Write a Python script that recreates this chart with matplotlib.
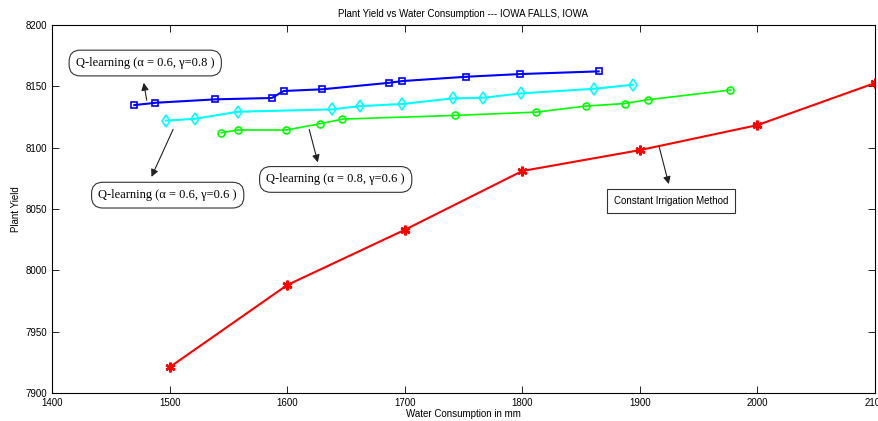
import matplotlib.pyplot as plt

# Data
q68_x = [1470, 1488, 1539, 1587, 1597, 1630, 1687, 1698, 1752, 1798, 1865]
q68_y = [8134.7, 8136.6, 8139.4, 8140.5, 8146.2, 8147.6, 8152.9, 8154.3, 8157.8, 8160, 8162.2]

q66_x = [1497, 1522, 1558, 1638, 1662, 1698, 1741, 1767, 1799, 1861, 1894]
q66_y = [8122, 8123.6, 8129.3, 8131.2, 8133.9, 8135.6, 8140.2, 8140.7, 8144.3, 8148, 8151.3]

q86_x = [1544, 1558, 1599, 1628, 1647, 1743, 1812, 1854, 1887, 1907, 1977]
q86_y = [8112.2, 8114.4, 8114.4, 8119.5, 8123.3, 8126.3, 8129, 8133.9, 8136, 8139.1, 8147]

const_x = [1500, 1600, 1700, 1800, 1900, 2000, 2100]
const_y = [7921, 7988, 8033, 8081, 8098, 8118.4, 8152.7]

xticks = [1400, 1500, 1600, 1700, 1800, 1900, 2000, 2100]
yticks = [7900, 7950, 8000, 8050, 8100, 8150, 8200]

plt.rcParams['font.family'] = ['Liberation Sans', 'DejaVu Sans']

fig = plt.figure(figsize=(8.79, 4.21), dpi=100)
ax = fig.add_axes([52 / 879, 1 - 393 / 421, 823 / 879, 368 / 421])

ax.plot(q68_x, q68_y, color='#0000ff', lw=1.5, marker='s', ms=5, mfc='none', mew=1.2)
ax.plot(q66_x, q66_y, color='#00ffff', lw=1.5, marker='d', ms=6, mfc='none', mew=1.2)
ax.plot(q86_x, q86_y, color='#00ff00', lw=1.2, marker='o', ms=5, mfc='none', mew=1.2)
ax.plot(const_x, const_y, color='#ff0000', lw=1.5, marker=(6, 2, 0), ms=7, mew=1.8)

ax.set_xlim(1400, 2100)
ax.set_ylim(7900, 8200)
ax.set_xticks(xticks)
ax.set_yticks(yticks)
ax.tick_params(direction='in', top=True, right=True, labelsize=7, length=5, width=0.6)
for s in ax.spines.values():
    s.set_linewidth(0.8)

ax.set_title('Plant Yield vs Water Consumption --- IOWA FALLS, IOWA', fontsize=7, pad=6)
ax.set_xlabel('Water Consumption in mm', fontsize=7, labelpad=1)
ax.set_ylabel('Plant Yield', fontsize=7, labelpad=3)

# Text boxes with arrows
serif = ['Liberation Serif', 'DejaVu Serif']
rbox = dict(boxstyle='round,pad=0.55,rounding_size=0.9', fc='white', ec='#333333', lw=0.8)
arrow = dict(arrowstyle='-|>', color='#222222', lw=0.8, mutation_scale=11)

ax.text(1479.3, 8169, 'Q-learning (α = 0.6, γ=0.8 )', fontsize=9, family=serif,
        ha='center', va='center', bbox=rbox)
ax.annotate('', xy=(1477.6, 8155.1), xytext=(1481, 8136.4), arrowprops=arrow)

ax.text(1498.4, 8061.3, 'Q-learning (α = 0.6, γ=0.6 )', fontsize=9, family=serif,
        ha='center', va='center', bbox=rbox)
ax.annotate('', xy=(1483.6, 8074.1), xytext=(1504, 8117), arrowprops=arrow)

ax.text(1641.3, 8074.1, 'Q-learning (α = 0.8, γ=0.6 )', fontsize=9, family=serif,
        ha='center', va='center', bbox=rbox)
ax.annotate('', xy=(1626.7, 8085.8), xytext=(1618.2, 8117), arrowprops=arrow)

ax.text(1926.8, 8056.6, 'Constant Irrigation Method', fontsize=7,
        ha='center', va='center',
        bbox=dict(boxstyle='square,pad=0.7', fc='white', ec='#333333', lw=0.8))
ax.annotate('', xy=(1925.2, 8068.1), xytext=(1915.8, 8103), arrowprops=arrow)

fig.savefig('out.png', dpi=100)
